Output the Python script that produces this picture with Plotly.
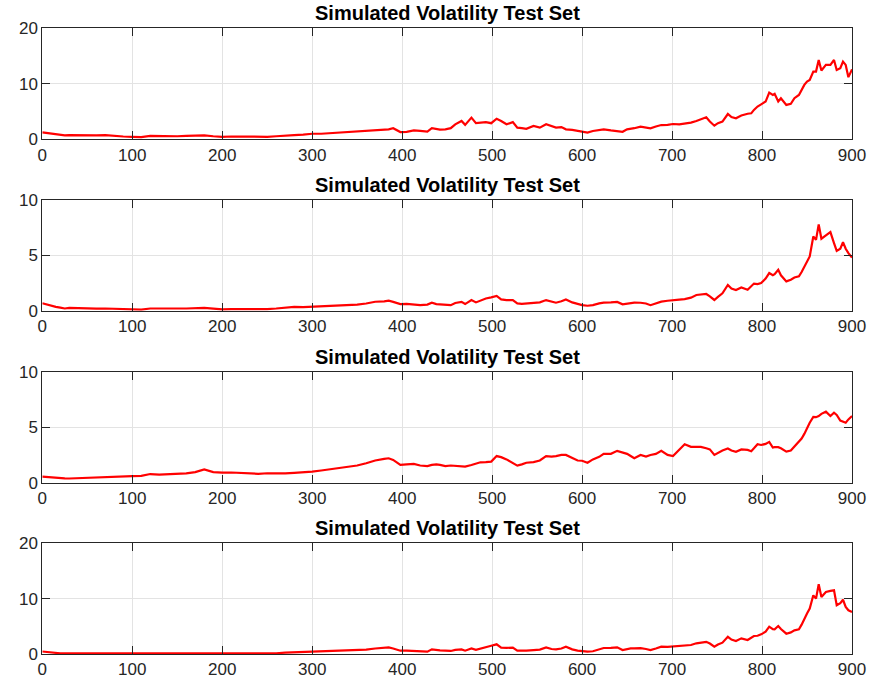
import plotly.graph_objects as go

# shared time index (samples)
t = [0, 5, 10, 15, 20, 25, 30, 40, 50, 60,
     70, 80, 90, 100, 110, 120, 130, 140, 150, 160,
     170, 180, 190, 200, 210, 220, 230, 240, 250, 260,
     270, 280, 290, 300, 310, 320, 330, 340, 350, 360,
     370, 380, 385, 390, 398, 405, 413, 420, 428, 433,
     438, 442, 448, 454, 459, 466, 470, 477, 482, 487,
     493, 499, 505, 510, 516, 523, 528, 533, 538, 546,
     553, 560, 566, 571, 577, 582, 589, 595, 600, 606,
     612, 619, 624, 632, 639, 645, 650, 654, 658, 665,
     671, 676, 682, 688, 695, 701, 708, 714, 721, 727,
     732, 738, 742, 747, 751, 756, 762, 766, 771, 777,
     784, 788, 791, 795, 799, 804, 808, 812, 814, 818,
     821, 827, 832, 836, 841, 844, 847, 850, 853, 857,
     860, 863, 866, 871, 876, 880, 883, 887, 890, 893,
     896, 900]

vol1 = [1.25, 1.15, 1.05, 0.95, 0.85, 0.7, 0.75, 0.7, 0.65, 0.7,
        0.75, 0.6, 0.5, 0.45, 0.4, 0.6, 0.55, 0.6, 0.55, 0.6,
        0.6, 0.7, 0.55, 0.45, 0.5, 0.5, 0.45, 0.4, 0.45, 0.55,
        0.7, 0.75, 0.85, 1.0, 1.0, 1.1, 1.25, 1.35, 1.4, 1.5,
        1.6, 1.7, 1.8, 2.0, 1.3, 1.35, 1.6, 1.5, 1.4, 2.0,
        1.8, 1.75, 1.8, 2.0, 2.7, 3.3, 2.6, 3.9, 2.9, 2.95,
        3.1, 2.9, 3.7, 3.3, 2.7, 3.1, 2.1, 2.0, 1.9, 2.4,
        2.1, 2.7, 2.4, 2.1, 2.2, 1.8, 1.7, 1.5, 1.3, 1.2,
        1.5, 1.7, 1.8, 1.6, 1.5, 1.35, 1.8, 1.97, 2.0, 2.27,
        2.1, 1.97, 2.3, 2.57, 2.6, 2.76, 2.7, 2.8, 3.0, 3.3,
        3.6, 3.96, 3.2, 2.45, 2.9, 3.2, 4.56, 4.0, 3.8, 4.3,
        4.6, 4.68, 5.3, 5.9, 6.3, 6.8, 8.4, 8.0, 8.2, 6.8,
        7.4, 6.2, 6.4, 7.4, 8.0, 9.0, 9.8, 10.4, 10.7, 12.2,
        12.2, 14.3, 12.4, 13.4, 13.4, 14.3, 12.5, 12.8, 14.0, 13.4,
        11.2, 12.6]

vol2 = [0.67, 0.55, 0.45, 0.35, 0.28, 0.2, 0.25, 0.22, 0.2, 0.18,
        0.2, 0.18, 0.15, 0.12, 0.1, 0.2, 0.22, 0.18, 0.2, 0.2,
        0.22, 0.25, 0.18, 0.12, 0.15, 0.15, 0.12, 0.12, 0.15, 0.2,
        0.3, 0.35, 0.33, 0.36, 0.4, 0.45, 0.5, 0.52, 0.55, 0.65,
        0.81, 0.85, 0.9, 0.8, 0.6, 0.62, 0.55, 0.51, 0.55, 0.72,
        0.6, 0.58, 0.55, 0.5, 0.7, 0.8, 0.6, 0.96, 0.75, 0.9,
        1.1, 1.2, 1.33, 1.02, 0.95, 0.96, 0.66, 0.62, 0.65, 0.66,
        0.75, 0.96, 0.8, 0.72, 0.85, 1.02, 0.75, 0.6, 0.5, 0.45,
        0.5, 0.66, 0.73, 0.75, 0.79, 0.58, 0.65, 0.7, 0.73, 0.72,
        0.65, 0.5, 0.65, 0.82, 0.9, 0.97, 1.0, 1.05, 1.18, 1.42,
        1.48, 1.51, 1.3, 0.97, 1.25, 1.57, 2.32, 2.0, 1.87, 2.1,
        1.9, 2.2, 2.45, 2.4, 2.5, 2.9, 3.4, 3.2, 3.3, 3.7,
        3.2, 2.65, 2.8, 3.0, 3.1, 3.5, 3.96, 4.4, 4.9, 6.7,
        6.4, 7.8, 6.5, 6.8, 7.1, 6.1, 5.4, 5.6, 6.2, 5.6,
        5.2, 4.8]

vol3 = [0.54, 0.5, 0.45, 0.42, 0.4, 0.39, 0.38, 0.42, 0.45, 0.48,
        0.5, 0.52, 0.55, 0.6, 0.62, 0.78, 0.72, 0.75, 0.78, 0.84,
        0.95, 1.2, 0.95, 0.9, 0.92, 0.88, 0.85, 0.8, 0.85, 0.82,
        0.84, 0.88, 0.92, 0.99, 1.1, 1.2, 1.3, 1.39, 1.55, 1.75,
        2.0, 2.15, 2.2, 2.05, 1.6, 1.65, 1.69, 1.55, 1.5, 1.6,
        1.65, 1.6, 1.5, 1.55, 1.5, 1.45, 1.45, 1.6, 1.7, 1.84,
        1.85, 1.9, 2.4, 2.3, 2.1, 1.8, 1.54, 1.65, 1.8, 1.85,
        2.0, 2.4, 2.35, 2.4, 2.5, 2.5, 2.2, 2.0, 1.98, 1.8,
        2.1, 2.33, 2.6, 2.6, 2.87, 2.7, 2.6, 2.4, 2.2, 2.5,
        2.35, 2.5, 2.6, 2.87, 2.5, 2.4, 2.93, 3.47, 3.23, 3.25,
        3.23, 3.1, 3.0, 2.5, 2.7, 2.9, 3.08, 2.9, 2.78, 3.0,
        2.95, 2.84, 3.1, 3.47, 3.4, 3.5, 3.68, 3.17, 3.2, 3.2,
        3.1, 2.8, 2.9, 3.23, 3.7, 3.98, 4.4, 4.98, 5.4, 5.93,
        5.9, 6.0, 6.2, 6.4, 6.0, 6.3, 6.1, 5.6, 5.5, 5.4,
        5.7, 6.0]

vol4 = [0.45, 0.35, 0.25, 0.18, 0.12, 0.1, 0.1, 0.08, 0.08, 0.06,
        0.06, 0.06, 0.05, 0.05, 0.05, 0.06, 0.07, 0.08, 0.08, 0.08,
        0.08, 0.1, 0.06, 0.05, 0.05, 0.05, 0.05, 0.05, 0.06, 0.12,
        0.25, 0.3, 0.35, 0.42, 0.45, 0.5, 0.55, 0.6, 0.65, 0.8,
        1.0, 1.05, 1.2, 1.0, 0.6, 0.62, 0.55, 0.45, 0.42, 0.84,
        0.7, 0.65, 0.6, 0.55, 0.75, 0.84, 0.6, 1.0, 0.75, 1.0,
        1.33, 1.5, 1.75, 1.15, 1.1, 1.15, 0.6, 0.55, 0.6, 0.7,
        0.8, 1.2, 0.9, 0.84, 1.0, 1.33, 0.84, 0.6, 0.5, 0.42,
        0.5, 0.9, 1.08, 1.1, 1.2, 0.72, 0.9, 1.0, 1.02, 1.05,
        0.9, 0.72, 1.0, 1.32, 1.3, 1.35, 1.45, 1.55, 1.62, 1.93,
        2.1, 2.2, 1.9, 1.32, 1.7, 2.05, 3.1, 2.6, 2.35, 2.83,
        2.53, 2.9, 3.25, 3.3, 3.55, 4.03, 4.94, 4.5, 4.46, 5.06,
        4.5, 3.67, 3.9, 4.27, 4.46, 5.3, 6.4, 7.3, 8.2, 10.6,
        10.0, 12.6, 10.3, 11.2, 11.4, 11.5, 8.8, 9.2, 9.8, 8.5,
        7.9, 7.6]

series = [vol1, vol2, vol3, vol4]
y_ranges = [[0, 20], [0, 10], [0, 10], [0, 20]]
y_dticks = [10, 5, 5, 10]
title_text = "Simulated Volatility Test Set"

W, H = 870, 687
x_dom = [42.3 / W, 852.0 / W]
# panel (top, bottom) in pixels
panels_px = [(28.3, 139.3), (200.0, 310.7), (371.7, 482.7), (543.3, 654.0)]

AX = "#262626"
GRID = "#e3e3e3"
FONT = "Liberation Sans, Arial, Helvetica, sans-serif"

fig = go.Figure()
layout = dict(
    width=W, height=H,
    margin=dict(l=0, r=0, t=0, b=0, autoexpand=False),
    paper_bgcolor="white", plot_bgcolor="white",
    showlegend=False,
    font=dict(family=FONT, size=17, color=AX),
    annotations=[],
)

for i, ys in enumerate(series):
    n = "" if i == 0 else str(i + 1)
    fig.add_trace(go.Scatter(
        x=t, y=ys, mode="lines",
        line=dict(color="#ff0000", width=2.2),
        xaxis="x" + n, yaxis="y" + n, hoverinfo="skip",
    ))
    top, bot = panels_px[i]
    dom_y = [1 - bot / H, 1 - top / H]
    common = dict(
        showline=True, linecolor=AX, linewidth=1, mirror="ticks",
        ticks="inside", ticklen=8, tickwidth=1, tickcolor=AX,
        showgrid=True, gridcolor=GRID, gridwidth=1,
        zeroline=False, automargin=False,
        tickfont=dict(family=FONT, size=17, color=AX),
    )
    layout["xaxis" + n] = dict(
        domain=x_dom, range=[0, 900], tick0=0, dtick=100,
        anchor="y" + n, **common,
    )
    layout["yaxis" + n] = dict(
        domain=dom_y, range=y_ranges[i], tick0=0, dtick=y_dticks[i],
        anchor="x" + n, **common,
    )
    layout["annotations"].append(dict(
        text="<b>" + title_text + "</b>",
        xref="paper", yref="paper",
        x=(x_dom[0] + x_dom[1]) / 2, y=dom_y[1],
        xanchor="center", yanchor="bottom", yshift=2,
        showarrow=False,
        font=dict(family=FONT, size=20, color="#000000"),
    ))

fig.update_layout(**layout)
fig.write_html("out.html")
